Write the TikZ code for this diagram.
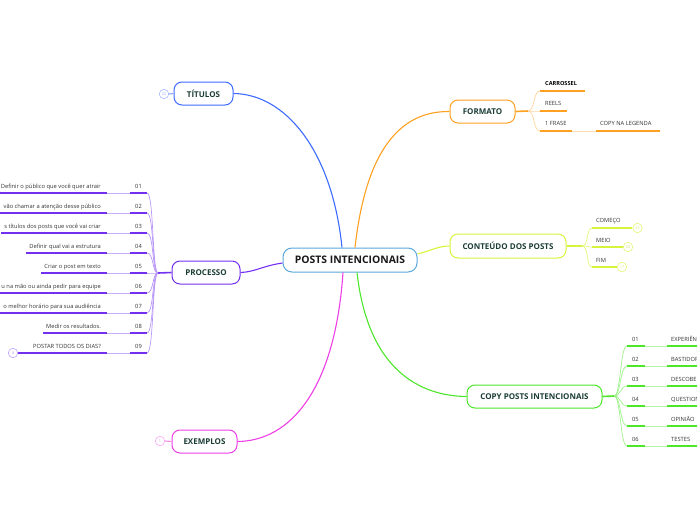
\documentclass[tikz,border=0pt]{standalone}
\usepackage{fontspec}
\setmainfont{Open Sans}
\definecolor{cblue}{HTML}{3D6BFF}
\definecolor{corange}{HTML}{FFA020}
\definecolor{cyel}{HTML}{D4F53C}
\definecolor{cgreen}{HTML}{4CE62A}
\definecolor{cpurp}{HTML}{7430F0}
\definecolor{cmag}{HTML}{EE3EE6}
\definecolor{ccent}{HTML}{5BA8DE}
\definecolor{ctext}{HTML}{1B3D35}
\definecolor{csub}{HTML}{333333}
\tikzset{
  topic/.style={draw, fill=white, rounded corners=8pt, line width=1pt, inner sep=0pt,
    text=ctext, font=\fontsize{8}{9}\selectfont\bfseries, minimum height=23pt},
  subtxt/.style={inner sep=0pt, text=csub, font=\fontsize{5.75}{6.5}\selectfont},
  ul/.style={line width=1.6pt},
  link/.style={line width=1.1pt},
  faint/.style={line width=0.7pt},
  badge/.style={circle, draw, line width=0.6pt, inner sep=0pt, minimum size=9.5pt,
    font=\fontsize{3.8}{4}\selectfont},
}
\begin{document}
\begin{tikzpicture}[x=1pt,y=-1pt]
\useasboundingbox (0,0) rectangle (697,520);
\clip (0,0) rectangle (697,520);

% central
\node[topic, draw=ccent, minimum width=134pt, minimum height=24pt, rounded corners=9pt,
      font=\fontsize{10.4}{12}\selectfont\bfseries, text=black!90] (c) at (350,260) {POSTS INTENCIONAIS};

% main topics
\node[topic, draw=cblue, minimum width=59pt] (tit) at (203.5,93.5) {TÍTULOS};
\node[topic, draw=corange, minimum width=65pt] (fmt) at (482.5,111.5) {FORMATO};
\node[topic, draw=cyel, minimum width=116pt, minimum height=24pt] (cont) at (508,246) {CONTEÚDO DOS POSTS};
\node[topic, draw=cgreen, minimum width=135pt] (copy) at (534.5,396.5) {COPY POSTS INTENCIONAIS};
\node[topic, draw=cpurp, minimum width=68pt] (proc) at (206,272.5) {PROCESSO};
\node[topic, draw=cmag, minimum width=65pt] (exe) at (204.5,441.5) {EXEMPLOS};

% main connectors
\draw[cblue, link] ([xshift=-8pt]c.north) .. controls (332,150) and (285,94) .. (tit.east);
\draw[corange, link] ([xshift=5pt]c.north) .. controls (366,150) and (400,111) .. (fmt.west);
\draw[cyel, link] ([yshift=6pt]c.east) .. controls (430,251) and (438,246) .. (cont.west);
\draw[cgreen, link] ([xshift=7pt]c.south) .. controls (368,370) and (420,396) .. (copy.west);
\draw[cmag, link] ([xshift=-7pt]c.south) .. controls (335,390) and (290,441) .. (exe.east);
\draw[cpurp, link] ([yshift=-3pt]c.west) .. controls (262,266) and (255,272) .. (proc.east);

% badges on topics
\node[badge, draw=cblue!45, text=cblue!60] (tb) at (164,94) {22};
\draw[cblue!60, link] (tb.east) -- (tit.west);
\node[badge, draw=cmag!45, text=cmag!60] (eb) at (160,441) {1};
\draw[cmag!60, link] (eb.east) -- (exe.west);

% FORMATO children
\coordinate (fj) at (528,111);
\draw[corange, ul] (fmt.east) -- (fj);
\node[subtxt, anchor=base west, font=\fontsize{5.6}{6}\selectfont\bfseries, text=black] (f1) at (545,85.5) {CARROSSEL};
\node[subtxt, anchor=base west] (f2) at (545,105.5) {REELS};
\node[subtxt, anchor=base west] (f3) at (545,125.5) {1 FRASE};
\node[subtxt, anchor=base west] (f4) at (600,125.5) {COPY NA LEGENDA};
\coordinate (fa1) at (540,91); \coordinate (fb1) at (585,91);
\coordinate (fa2) at (540,111); \coordinate (fb2) at (567,111);
\coordinate (fa3) at (540,131); \coordinate (fb3) at (572,131);
\coordinate (fa4) at (596,131); \coordinate (fb4) at (660,131);
\foreach \k/\yy in {1/91,2/111,3/131}{
  \draw[corange!45, faint] (fj) .. controls (535,111) and (533,\yy) .. (fa\k);
  \draw[corange, ul] (fa\k) -- (fb\k);
}
\draw[corange!35, faint] (fb3) -- (fa4);
\draw[corange, ul] (fa4) -- (fb4);

% CONTEUDO children
\coordinate (cj) at (582,246);
\draw[cyel, ul] (cont.east) -- (cj);
\node[subtxt, anchor=base west] (k1) at (596,222) {COMEÇO};
\node[subtxt, anchor=base west] (k2) at (596,242) {MEIO};
\node[subtxt, anchor=base west] (k3) at (596,262) {FIM};
\node[badge, draw=cyel!70, text=cyel!90!black!70] (kb1) at (637.5,228) {55};
\node[badge, draw=cyel!70, text=cyel!90!black!70] (kb2) at (628,247) {28};
\node[badge, draw=cyel!70, text=cyel!90!black!70] (kb3) at (622,267) {17};
\coordinate (ka1) at (592,228); \coordinate (ka2) at (592,247); \coordinate (ka3) at (592,267);
\foreach \k/\yy in {1/228,2/247,3/267}{
  \draw[cyel!70, faint] (cj) .. controls (589,246) and (586,\yy) .. (ka\k);
  \draw[cyel, ul] (ka\k) -- (kb\k.west);
}

% COPY children
\coordinate (gj) at (614,396);
\draw[cgreen, ul] (copy.east) -- (gj);
\foreach \i/\n/\t in {1/01/EXPERIÊNCIA,2/02/BASTIDORES,3/03/DESCOBERTA,4/04/QUESTIONAMENTO,5/05/OPINIÃO,6/06/TESTES}{
  \pgfmathsetmacro{\yy}{346+20*(\i-1)}
  \node[subtxt, anchor=base west] (gn\i) at (632,\yy-4.5) {\n};
  \node[subtxt, anchor=base west] (gt\i) at (671,\yy-4.5) {\t};
  \coordinate (ga\i) at (627,\yy); \coordinate (gb\i) at (645,\yy);
  \coordinate (gc\i) at (667,\yy); \coordinate (gd\i) at (700,\yy);
  \draw[cgreen!55, faint] (gj) .. controls (621,396) and (620,\yy) .. (ga\i);
  \draw[cgreen, ul] (ga\i) -- (gb\i);
  \draw[cgreen!40, faint] (gb\i) -- (gc\i);
  \draw[cgreen, ul] (gc\i) -- (gd\i);
}

% PROCESSO children
\coordinate (pj) at (158,273);
\draw[cpurp, ul] (proc.west) -- (pj);
\foreach \i/\n/\t in {1/01/Definir o público que você quer atrair,
                      2/02/vão chamar a atenção desse público,
                      3/03/s títulos dos  posts que você vai criar,
                      4/04/Definir qual vai a estrutura,
                      5/05/Criar o post em texto,
                      6/06/u na mão ou ainda pedir para equipe,
                      7/07/o melhor horário para sua audiência,
                      8/08/Medir os resultados.,
                      9/09/POSTAR TODOS OS DIAS?}{
  \pgfmathsetmacro{\yy}{193+20*(\i-1)}
  \node[subtxt, anchor=base east] (pt\i) at (101,\yy-4.5) {\t};
  \node[subtxt, anchor=base] (pn\i) at (138.5,\yy-4.5) {\n};
  \coordinate (pa\i) at (107,\yy); \coordinate (pb\i) at (130,\yy); \coordinate (pc\i) at (147,\yy);
  \draw[cpurp, ul] ([xshift=-3pt]pt\i.west |- pa\i) -- (pa\i);
  \draw[cpurp!40, faint] (pa\i) -- (pb\i);
  \draw[cpurp, ul] (pb\i) -- (pc\i);
  \draw[cpurp!50, faint] (pc\i) .. controls (154,\yy) and (152,273) .. (pj);
}
\node[badge, draw=cpurp!45, text=cpurp!60] (pbadge) at (13,353) {4};
\draw[cpurp, ul] (pbadge.east) -- ([xshift=-3pt]pt9.west |- pa9);
\end{tikzpicture}
\end{document}
